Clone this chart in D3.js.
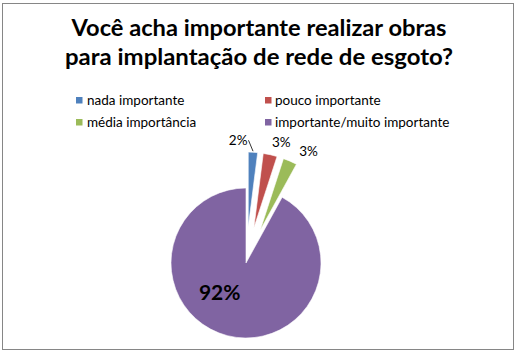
<!DOCTYPE html>
<html>
<head>
<meta charset="utf-8">
<script src="https://cdn.jsdelivr.net/npm/d3@7"></script>
<style>
  html, body { margin: 0; padding: 0; background: #fff; }
  svg { display: block; font-family: Lato, "Noto Sans", sans-serif; }
</style>
</head>
<body>
<svg id="chart" width="519" height="353"></svg>
<script>
// ---------- Dados ----------
const TITLE_LINES = ["Você acha importante realizar obras", "para implantação de rede de esgoto?"];
const CATEGORIES = ["nada importante", "pouco importante", "média importância", "importante/muito importante"];
const VALUES = [2, 3, 3, 92];
const LABELS = ["2%", "3%", "3%", "92%"];
const COLORS = ["#4f81bd", "#c0504d", "#9bbb59", "#8064a2"];
const EXPLODE = [36, 36, 36, 0];   // deslocamento das fatias (px)

const W = 519, H = 353;
const svg = d3.select("#chart");

// moldura do gráfico
svg.append("rect")
  .attr("x", 2.5).attr("y", 3.5)
  .attr("width", 511).attr("height", 346)
  .attr("fill", "#fff")
  .attr("stroke", "#868686")
  .attr("stroke-width", 1);

// ---------- Título ----------
const titleW = [375, 388];
TITLE_LINES.forEach((t, i) => {
  svg.append("text")
    .attr("x", 259)
    .attr("y", 36 + i * 28.5)
    .attr("text-anchor", "middle")
    .attr("textLength", titleW[i])
    .attr("lengthAdjust", "spacingAndGlyphs")
    .style("font-weight", "700")
    .style("font-size", "23px")
    .style("fill", "#000")
    .text(t);
});

// ---------- Legenda ----------
const legX = [76, 265], legY = [100, 122];
const leg = svg.append("g");
CATEGORIES.forEach((c, i) => {
  const gx = legX[i % 2], gy = legY[Math.floor(i / 2)];
  leg.append("rect")
    .attr("x", gx).attr("y", gy - 3)
    .attr("width", 6.5).attr("height", 6.5)
    .attr("fill", COLORS[i]);
  leg.append("text")
    .attr("x", gx + (i % 2 ? 10 : 11)).attr("y", gy + 4.5)
    .style("font-size", "13.5px")
    .style("fill", "#000")
    .text(c);
});

// ---------- Pizza ----------
const cx = 246, cy = 263, r = 75;
const pie = d3.pie().sort(null).value(d => d)(VALUES);
const arc = d3.arc().innerRadius(0).outerRadius(r);
const g = svg.append("g").attr("transform", `translate(${cx},${cy})`);

const off = (d, k) => {
  const a = (d.startAngle + d.endAngle) / 2;
  return [Math.sin(a) * k, -Math.cos(a) * k];
};

g.selectAll("path.slice")
  .data(pie)
  .join("path")
  .attr("class", "slice")
  .attr("d", arc)
  .attr("transform", (d, i) => `translate(${off(d, EXPLODE[i])})`)
  .attr("fill", (d, i) => COLORS[i])
  .attr("stroke", "#fff")
  .attr("stroke-width", 0.6);

// rótulos
const labDx = [-6, 0, 6];
const labDy = [1, 0, 2];
pie.forEach((d, i) => {
  if (i < 3) {
    const [px, py] = off(d, r + EXPLODE[i] + 8);
    g.append("text")
      .attr("x", px + labDx[i])
      .attr("y", py + labDy[i])
      .attr("text-anchor", i === 0 ? "end" : "start")
      .style("font-size", "13.5px")
      .style("fill", "#000")
      .text(LABELS[i]);
    if (i === 0) {
      const [ax, ay] = off(d, r + EXPLODE[i] + 1);
      g.append("line")
        .attr("x1", px + labDx[i] + 1).attr("y1", py - 4)
        .attr("x2", ax).attr("y2", ay)
        .attr("stroke", "#000").attr("stroke-width", 0.8);
    }
  } else {
    const [px, py] = arc.centroid(d);
    g.append("text")
      .attr("x", px - 17)
      .attr("y", py - 5)
      .attr("text-anchor", "middle")
      .attr("dominant-baseline", "middle")
      .style("font-size", "21px")
      .style("font-weight", "700")
      .style("fill", "#000")
      .text(LABELS[i]);
  }
});
</script>
</body>
</html>
